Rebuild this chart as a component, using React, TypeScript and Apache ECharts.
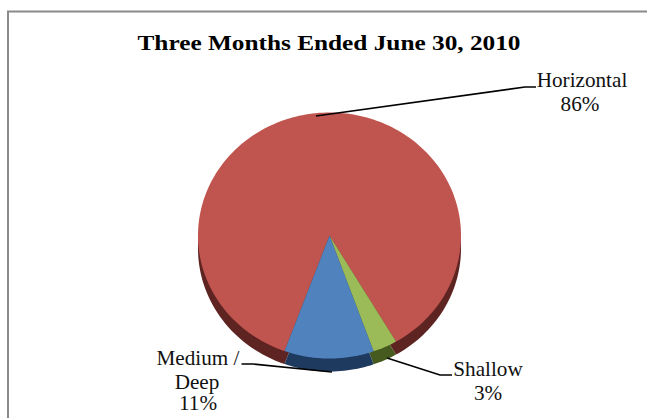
import React, { useEffect, useRef } from "react";
import * as echarts from "echarts";

const categories = ["Horizontal", "Shallow", "Medium / Deep"];
const shares = [86, 3, 11];
const topColors = ["#C0544F", "#9BBB59", "#5083BE"];
const sideColors = ["#5E2422", "#46591F", "#1E3A5F"];
const titleText = "Three Months Ended June 30, 2010";

const FONT = '"Liberation Serif", "Times New Roman", serif';

function sliceAngles() {
  const total = shares.reduce((a, b) => a + b, 0);
  let start = 200;
  return shares.map((v) => {
    const sweep = (v / total) * 360;
    const r = [start, start + sweep];
    start += sweep;
    return r;
  });
}

function ellipsePts(cx: number, cy: number, rx: number, ry: number, a0: number, a1: number) {
  const pts: number[][] = [[cx, cy]];
  const n = Math.max(2, Math.ceil((a1 - a0) / 1.5));
  for (let i = 0; i <= n; i++) {
    const t = ((a0 + ((a1 - a0) * i) / n) * Math.PI) / 180;
    pts.push([cx + rx * Math.sin(t), cy - ry * Math.cos(t)]);
  }
  return pts;
}

const label = (text: string, x: number, y: number, scaleX = 1.06) => ({
  type: "text",
  x,
  y,
  scaleX,
  silent: true,
  z: 100,
  style: { text, fontFamily: FONT, fontSize: 20, fill: "#111", textAlign: "center", textVerticalAlign: "middle" },
});

const leader = (points: number[][]) => ({
  type: "polyline",
  silent: true,
  z: 100,
  shape: { points },
  style: { stroke: "#000", lineWidth: 1.6, fill: "none" },
});

export default function App() {
  const ref = useRef<HTMLDivElement>(null);
  useEffect(() => {
    const chart = echarts.init(ref.current!, undefined, { renderer: "svg", width: 647, height: 418 });
    const angles = sliceAngles();
    const cx = 329.5, cy = 235.5, rx = 131.5, ry = 123, depth = 13;
    chart.setOption({
      animation: false,
      backgroundColor: "#fff",
      graphic: [
        { type: "polyline", silent: true, z: 100, shape: { points: [[8, 418], [8, 11.5], [647, 11.5]] }, style: { stroke: "#8a8a8a", lineWidth: 2, fill: "none" } },
        { type: "text", x: 329, y: 43, scaleX: 1.15, silent: true, z: 100, style: { text: titleText, fontFamily: FONT, fontWeight: "bold", fontSize: 22, fill: "#000", textAlign: "center", textVerticalAlign: "middle" } },
        leader([[316, 116], [525, 87], [536, 87]]),
        leader([[241.5, 364], [253, 364], [332, 372]]),
        leader([[387, 358], [440, 375], [452, 375]]),
        label("Horizontal", 582, 80),
        label("86%", 580, 104),
        label("Medium /", 198, 358),
        label("Deep", 197, 382),
        label("11%", 198, 403),
        label("Shallow", 488, 369),
        label("3%", 488, 393),
      ],
      series: [
        {
          type: "custom",
          coordinateSystem: "none",
          clip: false,
          z: 5,
          data: categories.map((name, i) => ({ name, value: shares[i] })),
          renderItem: (params: any) => {
            const i = params.dataIndex;
            const [a0, a1] = angles[i];
            return { type: "polygon", shape: { points: ellipsePts(cx, cy + depth, rx, ry, a0, a1) }, style: { fill: sideColors[i] } };
          },
        },
        {
          type: "custom",
          coordinateSystem: "none",
          clip: false,
          z: 6,
          data: categories.map((name, i) => ({ name, value: shares[i] })),
          renderItem: (params: any) => {
            const i = params.dataIndex;
            const [a0, a1] = angles[i];
            return { type: "polygon", shape: { points: ellipsePts(cx, cy, rx, ry, a0, a1) }, style: { fill: topColors[i] } };
          },
        },
      ],
    });
    return () => chart.dispose();
  }, []);
  return <div ref={ref} style={{ position: "absolute", left: 0, top: 0, width: 647, height: 418 }} />;
}
